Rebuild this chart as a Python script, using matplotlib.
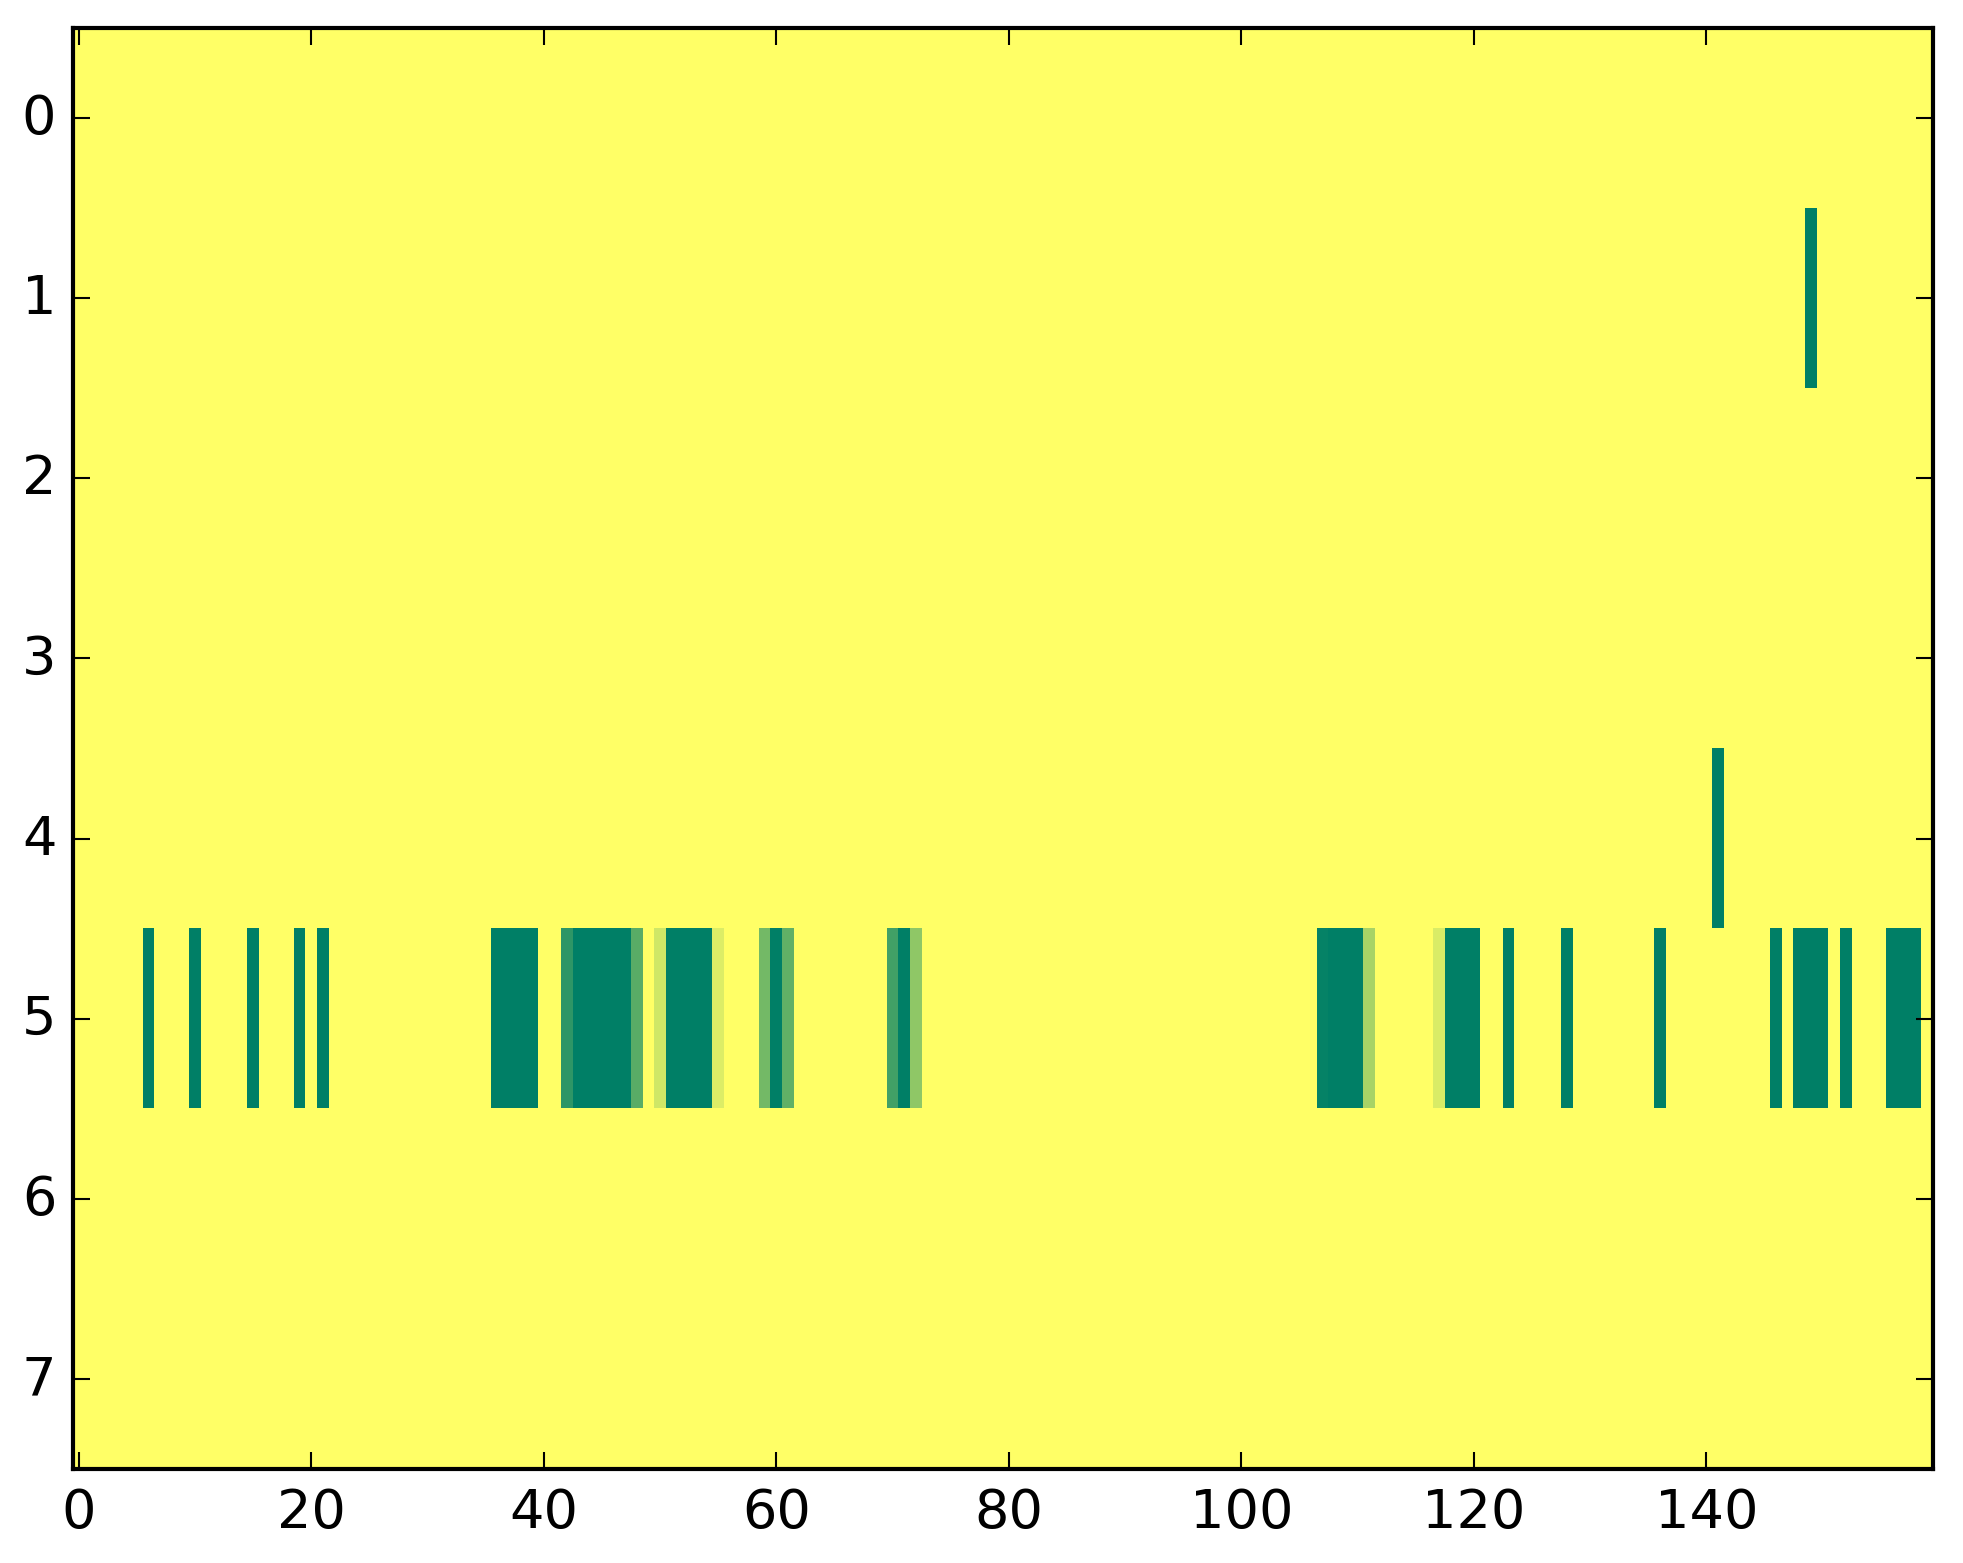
import matplotlib
matplotlib.use('Agg')
import matplotlib.pyplot as plt
import numpy as np

plt.style.use('classic')

n_rows = 8
n_cols = 160
background = 1.0

# row 5: column index -> value (0 = dark green, 1 = yellow)
row5_cols = [6, 10, 15, 19, 21,
             36, 37, 38, 39,
             42, 43, 44, 45, 46, 47, 48,
             50, 51, 52, 53, 54, 55,
             59, 60, 61,
             70, 71, 72,
             107, 108, 109, 110, 111,
             117, 118, 119, 120,
             123, 128, 136,
             146, 148, 149, 150, 152,
             156, 157, 158]
row5_vals = [0, 0, 0, 0, 0,
             0, 0, 0, 0,
             0.18, 0, 0, 0, 0, 0, 0.35,
             0.81, 0, 0, 0, 0, 0.86,
             0.45, 0, 0.38,
             0.26, 0, 0.56,
             0.02, 0, 0, 0, 0.66,
             0.85, 0, 0, 0,
             0, 0, 0,
             0, 0, 0, 0, 0,
             0, 0, 0]

row1_cols = [149]
row1_vals = [0]
row4_cols = [141]
row4_vals = [0]

grid = np.full((n_rows, n_cols), background)
grid[5, row5_cols] = row5_vals
grid[1, row1_cols] = row1_vals
grid[4, row4_cols] = row4_vals

fig = plt.figure(figsize=(1963 / 300, 1564 / 300), dpi=300, facecolor='white')
ax = fig.add_axes([73 / 1963, 1 - 1470 / 1564, (1933 - 73) / 1963, (1470 - 29) / 1564])
ax.imshow(grid, cmap='summer', aspect='auto', interpolation='nearest', vmin=0, vmax=1)
ax.set_xticks(range(0, 160, 20))
ax.set_yticks(range(0, 8))
ax.tick_params(labelsize=13)

fig.savefig('out.png', dpi=300, facecolor='white')
